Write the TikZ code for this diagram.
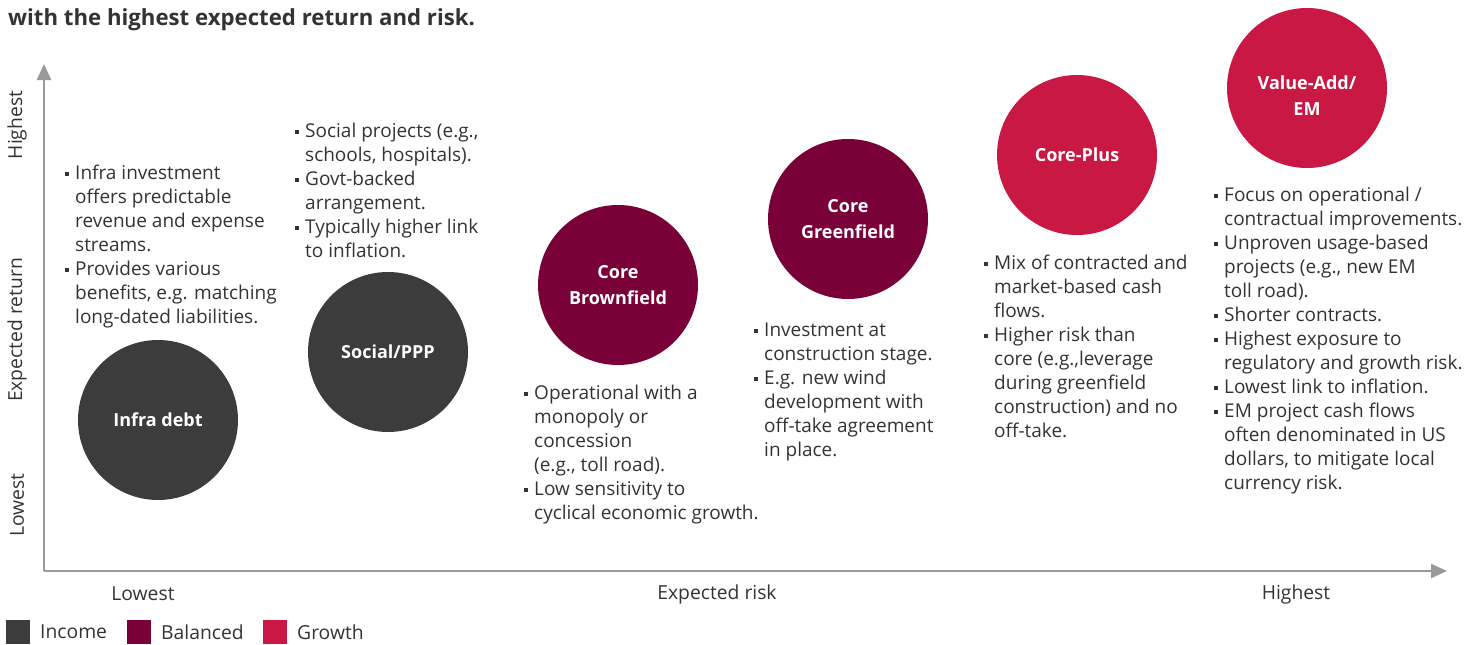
\documentclass[tikz,border=0pt]{standalone}
\usepackage{fontspec}
\setmainfont{Open Sans}
\usetikzlibrary{arrows.meta}
\definecolor{incomecol}{HTML}{3C3C3C}
\definecolor{balancedcol}{HTML}{7A0038}
\definecolor{growthcol}{HTML}{C91843}
\definecolor{axiscol}{HTML}{999999}
\definecolor{txtcol}{HTML}{333333}
\newcommand{\bul}{\rule{0pt}{18pt}\llap{\raisebox{3.5pt}{\rule{4pt}{4pt}}\hspace{6pt}}}
\tikzset{
  bubble/.style={circle, minimum size=160pt, inner sep=0pt, text=white, align=center,
    font=\fontsize{18}{26}\selectfont\bfseries},
  bubtext/.style={inner sep=0pt, text=white, align=center,
    font=\fontsize{18}{26}\selectfont\bfseries},
  desc/.style={anchor=north west, inner sep=0pt, align=left, text=txtcol,
    font=\fontsize{19}{24}\selectfont},
  axlabel/.style={inner sep=0pt, text=txtcol, font=\fontsize{19.3}{22}\selectfont},
  axisline/.style={draw=axiscol, line width=2.5pt, -{Triangle[length=16pt,width=14pt]}},
  legsq/.style={minimum size=24pt, inner sep=0pt},
}
\begin{document}
\begin{tikzpicture}[x=1pt,y=-1pt]
\useasboundingbox (0,0) rectangle (1475,645);
% title
\node[anchor=base west, inner sep=0pt, text=txtcol, font=\fontsize{22.2}{24}\selectfont\bfseries] (title) at (8,25) {with the highest expected return and risk.};
% axes
\coordinate (origin) at (44,571);
\coordinate (ytop) at (44,64);
\coordinate (xend) at (1447,571);
\draw[axisline] (origin) -- (ytop);
\draw[axisline] (origin) -- (xend);
% axis labels
\node[axlabel, rotate=90] (yhigh) at (17,125) {Highest};
\node[axlabel, rotate=90] (ymid) at (17,330) {Expected return};
\node[axlabel, rotate=90] (ylow) at (17,505) {Lowest};
\node[axlabel] (xlow) at (143,594) {Lowest};
\node[axlabel] (xmid) at (717,594) {Expected risk};
\node[axlabel] (xhigh) at (1296,594) {Highest};
% bubbles
\node[bubble, fill=incomecol] (infra) at (158,420) {Infra debt};
\node[bubble, fill=incomecol] (social) at (388,352) {Social/PPP};
\node[bubble, fill=balancedcol] (brown) at (618,285) {Core\\Brownfield};
\node[bubble, fill=balancedcol] (green) at (848,219) {Core\\Greenfield};
\node[bubble, fill=growthcol] (plus) at (1077,155) {Core-Plus};
\node[bubble, fill=growthcol] (value) at (1307,88) {};
\node[bubtext] (valuetext) at ([yshift=-8pt]value.center) {Value-Add/\\EM};
% descriptions (top = first baseline - 18)
\node[desc] (d1) at (75,161) {\bul Infra investment\\offers predictable\\revenue and expense\\streams.\\\bul Provides various\\benefits, e.g. matching\\long-dated liabilities.};
\node[desc] (d2) at (305,119) {\bul Social projects (e.g.,\\schools, hospitals).\\\bul Govt-backed\\arrangement.\\\bul Typically higher link\\to inflation.};
\node[desc] (d3) at (534,381) {\bul Operational with a\\monopoly or\\concession\\(e.g., toll road).\\\bul Low sensitivity to\\cyclical economic growth.};
\node[desc] (d4) at (764,318) {\bul Investment at\\construction stage.\\\bul E.g. new wind\\development with\\off-take agreement\\in place.};
\node[desc] (d5) at (994,251) {\bul Mix of contracted and\\market-based cash\\flows.\\\bul Higher risk than\\core (e.g.,leverage\\during greenfield\\construction) and no\\off-take.};
\node[desc] (d6) at (1224,183) {\bul Focus on operational /\\contractual improvements.\\\bul Unproven usage-based\\projects (e.g., new EM\\toll road).\\\bul Shorter contracts.\\\bul Highest exposure to\\regulatory and growth risk.\\\bul Lowest link to inflation.\\\bul EM project cash flows\\often denominated in US\\dollars, to mitigate local\\currency risk.};
% legend
\node[legsq, fill=incomecol] (lg1) at (18,632) {};
\node[axlabel, anchor=west] (lt1) at (40,632) {Income};
\node[legsq, fill=balancedcol] (lg2) at (139,632) {};
\node[axlabel, anchor=west] (lt2) at (161,632) {Balanced};
\node[legsq, fill=growthcol] (lg3) at (275,632) {};
\node[axlabel, anchor=west] (lt3) at (297,632) {Growth};
\end{tikzpicture}
\end{document}
